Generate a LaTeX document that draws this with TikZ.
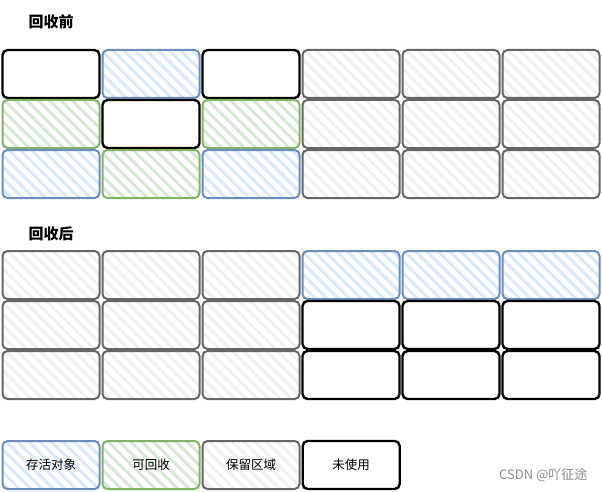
\documentclass[tikz,border=0pt]{standalone}
\usepackage{fontspec}
\newfontfamily\cjk{Noto Sans CJK SC}
\usetikzlibrary{positioning,patterns.meta}
\definecolor{liveline}{HTML}{6C8EBF}
\definecolor{livefill}{HTML}{DAE8FC}
\definecolor{gcline}{HTML}{82B366}
\definecolor{gcfill}{HTML}{D5E8D4}
\definecolor{keepline}{HTML}{666666}
\definecolor{keepfill}{HTML}{F0F0F0}

\begin{document}
\begin{tikzpicture}[
    x=1pt, y=-1pt,
    cell/.style={draw, rounded corners=5pt, line width=2pt, minimum width=97pt, minimum height=48pt, inner sep=0pt, font=\cjk\fontsize{12.5}{14}\selectfont},
    hatch/.style={pattern={Lines[angle=-45, distance=8pt, line width=3pt]}, pattern color=#1},
    liveobj/.style={cell, draw=liveline, hatch=livefill},
    garbage/.style={cell, draw=gcline, hatch=gcfill},
    reserved/.style={cell, draw=keepline, hatch=keepfill},
    unused/.style={cell, draw=black, line width=2.4pt, fill=white},
    title/.style={anchor=west, font=\cjk\bfseries\fontsize{15}{17}\selectfont}
  ]
  \useasboundingbox (0,0) rectangle (602,492);

  % before collection
  \node[title] (before) at (25,22) {回收前};
  \foreach \row [count=\r] in {{unused,liveobj,unused,reserved,reserved,reserved},
                               {garbage,unused,garbage,reserved,reserved,reserved},
                               {liveobj,garbage,liveobj,reserved,reserved,reserved}}
    \foreach \kind [count=\c] in \row
      \node[\kind] (pre-\r-\c) at ({100*\c-49}, {50*\r+24}) {};

  % after collection
  \node[title] (after) at (25,234) {回收后};
  \foreach \row [count=\r] in {{reserved,reserved,reserved,liveobj,liveobj,liveobj},
                               {reserved,reserved,reserved,unused,unused,unused},
                               {reserved,reserved,reserved,unused,unused,unused}}
    \foreach \kind [count=\c] in \row
      \node[\kind] (post-\r-\c) at ({100*\c-49}, {50*\r+225}) {};

  % legend
  \node[liveobj] (lg-live) at (51,465) {存活对象};
  \node[garbage, right=1pt of lg-live] (lg-gc) {可回收};
  \node[reserved, right=1pt of lg-gc] (lg-keep) {保留区域};
  \node[unused, right=1pt of lg-keep] (lg-free) {未使用};

  \node[anchor=east, text=black!45, font=\cjk\fontsize{13}{15}\selectfont] (mark) at (591,475) {CSDN @吖征途};
\end{tikzpicture}
\end{document}
